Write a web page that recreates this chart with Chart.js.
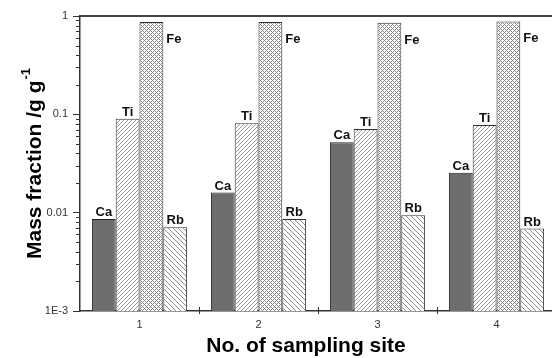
<!DOCTYPE html>
<html>
<head>
<meta charset="utf-8">
<script src="https://cdn.jsdelivr.net/npm/chart.js@4/dist/chart.umd.min.js"></script>
<style>
   html, body { margin: 0; padding: 0; background: #fff; overflow: hidden; }
   #myChart { display: block; }
</style>
</head>
<body>
<canvas id="myChart" width="560" height="358"></canvas>
<script>
'use strict';

// Values (mass fraction, g/g).
const sites = ['1', '2', '3', '4'];
const elements = ['Ca', 'Ti', 'Fe', 'Rb'];
const caValues = [0.0086, 0.016, 0.052, 0.0255];
const tiValues = [0.090, 0.081, 0.071, 0.078];
const feValues = [0.87, 0.87, 0.855, 0.88];
const rbValues = [0.0071, 0.0086, 0.0094, 0.0069];
const yTickValues = [0.001, 0.01, 0.1, 1];
const yTickLabels = ['1E-3', '0.01', '0.1', '1'];

(function () {

   const axisColor = '#333';
   const fontFamily = '"Liberation Sans", Arial, Helvetica, sans-serif';

   // Builds a small pixel pattern, test(x, y) says which pixels are inked.
   function makePattern(size, ink, test) {
      const c = document.createElement('canvas');
      c.width = size;
      c.height = size;
      const g = c.getContext('2d');
      g.fillStyle = '#fff';
      g.fillRect(0, 0, size, size);
      g.fillStyle = ink;
      for (let y = 0; y < size; y++) {
         for (let x = 0; x < size; x++) {
            if (test(x, y, size)) g.fillRect(x, y, 1, 1);
         }
      }
      return document.getElementById('myChart').getContext('2d').createPattern(c, 'repeat');
   }

   const tiFill = makePattern(4, '#9a9a9a', (x, y, s) => (x + y) % s === s - 1);
   const feFill = makePattern(4, '#8a8a8a', (x, y, s) => (x + y) % s === 0 || (x - y + s) % s === 0);
   const rbFill = makePattern(5, '#8c8c8c', (x, y, s) => (x - y + s) % s === 0);

   // Element names above the bars, minor ticks, top frame line and axis titles.
   const decorations = {
      id: 'decorations',
      afterDatasetsDraw(chart) {
         const ctx = chart.ctx;
         const area = chart.chartArea;
         const yScale = chart.scales.y;
         const xScale = chart.scales.x;

         ctx.save();
         ctx.fillStyle = '#111';
         ctx.font = 'bold 13px ' + fontFamily;
         chart.data.datasets.forEach(function (ds, di) {
            chart.getDatasetMeta(di).data.forEach(function (bar) {
               const half = bar.width / 2;
               if (ds.label === 'Fe') {
                  ctx.textAlign = 'left';
                  ctx.textBaseline = 'alphabetic';
                  ctx.fillText(ds.label, bar.x + half + 3, bar.y + 21);
               } else {
                  ctx.textAlign = 'center';
                  ctx.textBaseline = 'alphabetic';
                  ctx.fillText(ds.label, bar.x, bar.y - 3);
               }
            });
         });

         // top frame line
         ctx.strokeStyle = '#444';
         ctx.lineWidth = 2;
         ctx.beginPath();
         ctx.moveTo(area.left, area.top);
         ctx.lineTo(area.right, area.top);
         ctx.stroke();

         // minor ticks on the log axis
         ctx.strokeStyle = axisColor;
         ctx.lineWidth = 1;
         ctx.beginPath();
         for (let d = 0; d < yTickValues.length - 1; d++) {
            for (let m = 2; m < 10; m++) {
               const py = Math.round(yScale.getPixelForValue(yTickValues[d] * m)) + 0.5;
               ctx.moveTo(area.left - 4, py);
               ctx.lineTo(area.left, py);
            }
         }
         // category separators crossing the x axis
         for (let i = 1; i < sites.length; i++) {
            const px = Math.round((xScale.getPixelForValue(i - 1) + xScale.getPixelForValue(i)) / 2) + 0.5;
            ctx.moveTo(px, area.bottom - 4);
            ctx.lineTo(px, area.bottom + 3);
         }
         ctx.stroke();

         // x title
         ctx.fillStyle = '#000';
         ctx.font = 'bold 21px ' + fontFamily;
         ctx.textAlign = 'center';
         ctx.textBaseline = 'alphabetic';
         ctx.fillText('No. of sampling site', 306, 352);

         // y title with superscript
         ctx.translate(41, 259);
         ctx.rotate(-Math.PI / 2);
         ctx.textAlign = 'left';
         const main = 'Mass fraction /g g';
         ctx.fillText(main, 0, 0);
         const w = ctx.measureText(main).width;
         ctx.font = 'bold 13px ' + fontFamily;
         ctx.fillText('-1', w + 1, -11);
         ctx.restore();
      }
   };

   function drawChartJS() {
      const ctx = document.getElementById('myChart');
      new Chart(ctx, {
         type: 'bar',
         data: {
            labels: sites,
            datasets: [
               { label: elements[0], data: caValues, backgroundColor: '#6e6e6e', borderColor: '#222', borderWidth: 1 },
               { label: elements[1], data: tiValues, backgroundColor: tiFill, borderColor: '#333', borderWidth: 1 },
               { label: elements[2], data: feValues, backgroundColor: feFill, borderColor: '#333', borderWidth: 1 },
               { label: elements[3], data: rbValues, backgroundColor: rbFill, borderColor: '#333', borderWidth: 1 }
            ]
         },
         options: {
            responsive: false,
            animation: false,
            events: [],
            layout: { padding: { top: 16, right: 4, left: 0, bottom: 0 } },
            datasets: { bar: { categoryPercentage: 0.8, barPercentage: 1.0 } },
            plugins: {
               legend: { display: false },
               tooltip: { enabled: false }
            },
            scales: {
               x: {
                  grid: { display: false, drawTicks: false },
                  border: { display: true, color: axisColor, width: 1.5 },
                  ticks: {
                     color: '#333',
                     padding: 7,
                     font: { family: fontFamily, size: 11 }
                  },
                  afterFit: function (scale) { scale.height = 47; }
               },
               y: {
                  type: 'logarithmic',
                  min: 0.001,
                  max: 1,
                  grid: { display: true, drawOnChartArea: false, drawTicks: true, tickLength: 7, color: axisColor },
                  border: { display: true, color: axisColor, width: 1.5 },
                  afterBuildTicks: function (scale) {
                     scale.ticks = yTickValues.map(function (v) { return { value: v }; });
                  },
                  ticks: {
                     color: '#333',
                     padding: 5,
                     font: { family: fontFamily, size: 11 },
                     callback: function (value) {
                        const i = yTickValues.indexOf(value);
                        return i >= 0 ? yTickLabels[i] : '';
                     }
                  },
                  afterFit: function (scale) { scale.width = 80; }
               }
            }
         },
         plugins: [decorations]
      });
   }

   drawChartJS();
})();
</script>
</body>
</html>
